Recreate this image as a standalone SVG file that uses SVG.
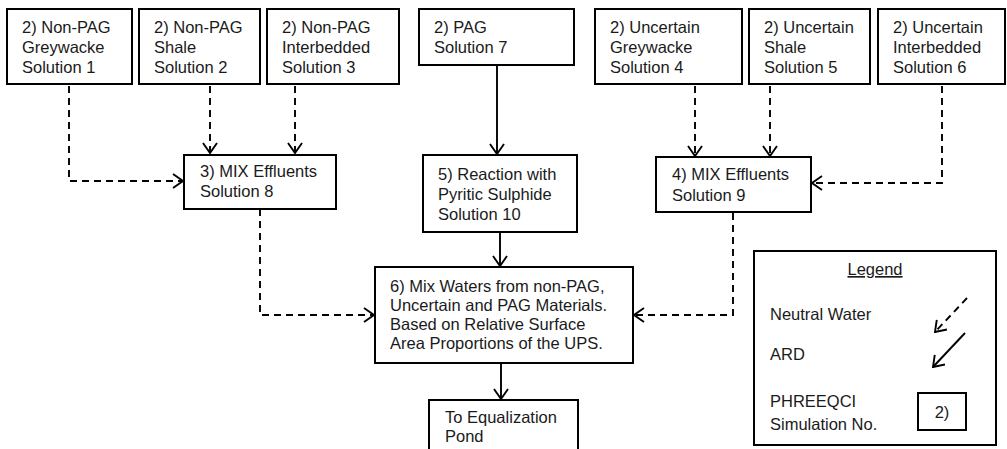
<svg xmlns="http://www.w3.org/2000/svg" width="1007" height="449" viewBox="0 0 1007 449">
<style>
.box{fill:#fff;stroke:#000;stroke-width:2}
text{font-family:"Liberation Sans",Arial,sans-serif;font-size:16.5px;fill:#1a1a1a}
.c{fill:none;stroke:#000;stroke-width:1.9}
.d{stroke-dasharray:7 5}
</style>
<defs>
<marker id="ah" viewBox="0 0 12 16" refX="11" refY="8" markerWidth="12" markerHeight="16" markerUnits="userSpaceOnUse" orient="auto">
<path d="M1,1 L11,8 L1,15" fill="none" stroke="#000" stroke-width="1.9"/>
</marker>
</defs>
<rect width="1007" height="449" fill="#fff"/>
<g id="connectors">
<path class="c d" d="M69,86 V181 H183" marker-end="url(#ah)"/>
<path class="c d" d="M210,86 V153" marker-end="url(#ah)"/>
<path class="c d" d="M295,86 V153" marker-end="url(#ah)"/>
<path class="c" d="M497,66 V154" marker-end="url(#ah)"/>
<path class="c d" d="M695,86 V156" marker-end="url(#ah)"/>
<path class="c d" d="M770,86 V156" marker-end="url(#ah)"/>
<path class="c d" d="M942,86 V183 H812" marker-end="url(#ah)"/>
<path class="c d" d="M260,209 V315 H374" marker-end="url(#ah)"/>
<path class="c d" d="M733,213 V315 H634" marker-end="url(#ah)"/>
<path class="c" d="M500,233 V266" marker-end="url(#ah)"/>
<path class="c" d="M501,364 V399" marker-end="url(#ah)"/>
</g>
<g id="n1"><rect class="box" x="7" y="9" width="125" height="75"/>
<text x="22" y="33">2) Non-PAG</text><text x="22" y="53">Greywacke</text><text x="22" y="73">Solution 1</text></g>
<g id="n2"><rect class="box" x="139" y="9" width="121" height="75"/>
<text x="154" y="33">2) Non-PAG</text><text x="154" y="53">Shale</text><text x="154" y="73">Solution 2</text></g>
<g id="n3"><rect class="box" x="267" y="9" width="132" height="75"/>
<text x="282" y="33">2) Non-PAG</text><text x="282" y="53">Interbedded</text><text x="282" y="73">Solution 3</text></g>
<g id="n7"><rect class="box" x="419" y="9" width="155" height="56"/>
<text x="434" y="33">2) PAG</text><text x="434" y="53">Solution 7</text></g>
<g id="n4"><rect class="box" x="595" y="9" width="147" height="75"/>
<text x="610" y="33">2) Uncertain</text><text x="610" y="53">Greywacke</text><text x="610" y="73">Solution 4</text></g>
<g id="n5"><rect class="box" x="749" y="9" width="121" height="75"/>
<text x="764" y="33">2) Uncertain</text><text x="764" y="53">Shale</text><text x="764" y="73">Solution 5</text></g>
<g id="n6"><rect class="box" x="878" y="9" width="127" height="75"/>
<text x="893" y="33">2) Uncertain</text><text x="893" y="53">Interbedded</text><text x="893" y="73">Solution 6</text></g>
<g id="n8"><rect class="box" x="184" y="155" width="152" height="54"/>
<text x="200" y="177">3) MIX Effluents</text><text x="200" y="197">Solution 8</text></g>
<g id="n10"><rect class="box" x="423" y="155" width="154" height="77"/>
<text x="438" y="180">5) Reaction with</text><text x="438" y="200">Pyritic Sulphide</text><text x="438" y="220">Solution 10</text></g>
<g id="n9"><rect class="box" x="656" y="157" width="155" height="55"/>
<text x="672" y="180">4) MIX Effluents</text><text x="672" y="201">Solution 9</text></g>
<g id="n11"><rect class="box" x="375" y="267" width="258" height="96"/>
<text x="390" y="292">6) Mix Waters from non-PAG,</text><text x="390" y="311">Uncertain and PAG Materials.</text><text x="390" y="330">Based on Relative Surface</text><text x="390" y="349">Area Proportions of the UPS.</text></g>
<g id="n12"><rect class="box" x="429" y="400" width="149" height="60"/>
<text x="445" y="423">To Equalization</text><text x="445" y="442">Pond</text></g>
<g id="legend"><rect class="box" x="754" y="251" width="242" height="194"/>
<text x="875" y="275" text-anchor="middle" text-decoration="underline">Legend</text>
<text x="770" y="320">Neutral Water</text>
<text x="770" y="360">ARD</text>
<text x="770" y="407">PHREEQCI</text>
<text x="770" y="430">Simulation No.</text>
<path class="c d" d="M967,298 L935,332" marker-end="url(#ah)"/>
<path class="c" d="M965,333 L933,367" marker-end="url(#ah)"/>
<rect class="box" x="918" y="393" width="48" height="37" stroke-width="1.6"/>
<text x="942" y="418" text-anchor="middle">2)</text>
</g>
</svg>
